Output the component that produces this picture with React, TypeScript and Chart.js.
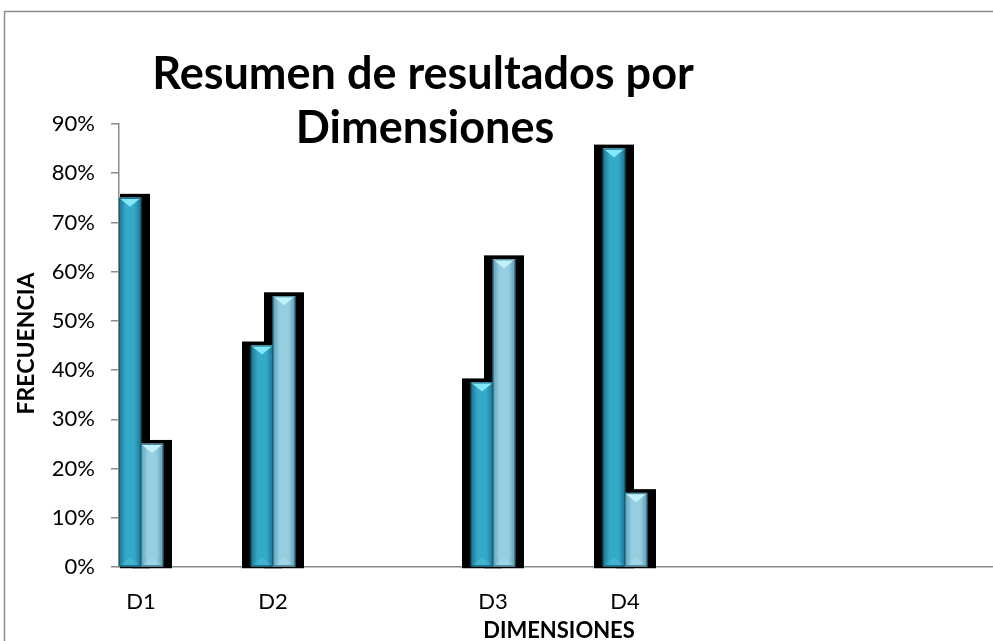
import React, { useEffect, useRef } from "react";
import { Chart, registerables } from "chart.js";

Chart.register(...registerables);

// Source rows: blank rows in the sheet keep their empty slot on the axis.
const categories = ["D1", "", "", "D2", "", "", "", "", "D3", "", "", "D4", "", "", "", "", "", "", "", ""];
const serieOscura: (number | null)[] = [0.75, null, null, 0.45, null, null, null, null, 0.375, null, null, 0.85, null, null, null, null, null, null, null, null];
const serieClara: (number | null)[] = [0.25, null, null, 0.55, null, null, null, null, 0.625, null, null, 0.15, null, null, null, null, null, null, null, null];
const yMax = 0.9;
const yStep = 0.1;

const titleLines = ["Resumen de resultados por", "Dimensiones"];
const yTitle = "FRECUENCIA";
const xTitle = "DIMENSIONES";

const FONT = "Lato, 'Open Sans', sans-serif";

const barLooks = [
  { edge: "#1c7591", mid: "#35a9c9", tip: "#82e8f9", line: "#155f74" },
  { edge: "#5e9fb8", mid: "#96cee1", tip: "#c3f2fa", line: "#3d7e96" },
];

const forEachBar = (chart: any, fn: (bar: any, di: number) => void) => {
  chart.data.datasets.forEach((ds: any, di: number) => {
    const meta = chart.getDatasetMeta(di);
    meta.data.forEach((el: any, i: number) => {
      if (ds.data[i] == null) return;
      fn(el.getProps(["x", "y", "base", "width"], true), di);
    });
  });
};

const decor = {
  id: "decor",
  beforeDraw(chart: any) {
    const { ctx } = chart;
    ctx.save();
    ctx.fillStyle = "#ffffff";
    ctx.fillRect(0, 0, chart.width, chart.height);
    ctx.strokeStyle = "#8c8c8c";
    ctx.lineWidth = 1.5;
    ctx.strokeRect(4.5, 11.5, chart.width + 40, chart.height + 40);
    ctx.restore();
  },
  beforeDatasetsDraw(chart: any) {
    // black halo behind every bar
    const { ctx, chartArea } = chart;
    ctx.save();
    ctx.beginPath();
    ctx.rect(chartArea.left + 1, 0, chart.width, chart.height);
    ctx.clip();
    ctx.fillStyle = "#000000";
    forEachBar(chart, (b) => {
      ctx.fillRect(b.x - b.width / 2 - 9, b.y - 4, b.width + 18, b.base - b.y + 6);
    });
    ctx.restore();
  },
  afterDatasetsDraw(chart: any) {
    const { ctx } = chart;
    ctx.save();
    forEachBar(chart, (b, di) => {
      const look = barLooks[di];
      const l = b.x - b.width / 2;
      const r = b.x + b.width / 2;
      const g = ctx.createLinearGradient(l, 0, r, 0);
      g.addColorStop(0, look.edge);
      g.addColorStop(0.3, look.mid);
      g.addColorStop(0.7, look.mid);
      g.addColorStop(1, look.edge);
      ctx.fillStyle = g;
      ctx.fillRect(l, b.y, b.width, b.base - b.y);
      // bevel facets
      const th = 9;
      ctx.fillStyle = look.tip;
      ctx.beginPath();
      ctx.moveTo(l, b.y);
      ctx.lineTo(r, b.y);
      ctx.lineTo(b.x, b.y + th);
      ctx.closePath();
      ctx.fill();
      ctx.globalAlpha = 0.18;
      ctx.beginPath();
      ctx.moveTo(l, b.base);
      ctx.lineTo(r, b.base);
      ctx.lineTo(b.x, b.base - th);
      ctx.closePath();
      ctx.fill();
      ctx.globalAlpha = 1;
      ctx.strokeStyle = look.line;
      ctx.lineWidth = 1;
      ctx.strokeRect(l + 0.5, b.y + 0.5, b.width - 1, b.base - b.y - 1);
    });
    ctx.restore();
  },
  afterDraw(chart: any) {
    const { ctx, chartArea } = chart;
    ctx.save();
    ctx.fillStyle = "#000000";
    ctx.textAlign = "center";
    ctx.textBaseline = "alphabetic";
    ctx.font = `bold 45px ${FONT}`;
    ctx.fillText(titleLines[0], 423, 89);
    ctx.fillText(titleLines[1], 425, 143);

    ctx.font = `bold 22px ${FONT}`;
    ctx.fillText(xTitle, (chartArea.left + chartArea.right) / 2, 638);

    ctx.font = `bold 23px ${FONT}`;
    ctx.translate(34, (chartArea.top + chartArea.bottom) / 2 - 2);
    ctx.rotate(-Math.PI / 2);
    ctx.fillText(yTitle, 0, 0);
    ctx.restore();
  },
};

export default function App() {
  const canvasRef = useRef<HTMLCanvasElement | null>(null);

  useEffect(() => {
    const canvas = canvasRef.current;
    if (!canvas) return;
    const axisGray = "#8a8a8a";
    const chart = new Chart(canvas, {
      type: "bar",
      data: {
        labels: categories,
        datasets: [
          { label: "Serie 1", data: serieOscura, backgroundColor: barLooks[0].mid, barPercentage: 1, categoryPercentage: 1 },
          { label: "Serie 2", data: serieClara, backgroundColor: barLooks[1].mid, barPercentage: 1, categoryPercentage: 1 },
        ],
      },
      options: {
        animation: false,
        responsive: true,
        maintainAspectRatio: false,
        layout: { padding: { top: 124, right: 1, left: 0, bottom: 0 } },
        plugins: {
          legend: { display: false },
          title: { display: false },
          tooltip: { enabled: false },
        },
        scales: {
          x: {
            ticks: {
              autoSkip: false,
              maxRotation: 0,
              minRotation: 0,
              padding: 22,
              color: "#000000",
              font: { family: FONT, size: 22 },
            },
            grid: { display: false, drawTicks: false },
            border: { color: axisGray, width: 1.5 },
            afterFit: (s: any) => {
              s.height = 74;
            },
          },
          y: {
            min: 0,
            max: yMax,
            ticks: {
              stepSize: yStep,
              padding: 16,
              color: "#000000",
              font: { family: FONT, size: 22 },
              callback: (v: any) => `${Math.round(Number(v) * 100)}%`,
            },
            grid: { drawOnChartArea: false, drawTicks: true, tickLength: 8, color: axisGray, lineWidth: 1.5 },
            border: { color: axisGray, width: 1.5 },
            afterFit: (s: any) => {
              s.width = 119;
            },
          },
        },
      },
      plugins: [decor],
    });
    return () => chart.destroy();
  }, []);

  return (
    <div
      style={{
        position: "absolute",
        left: 0,
        top: 0,
        width: 993,
        height: 641,
        overflow: "hidden",
        background: "#ffffff",
      }}
    >
      <div style={{ position: "relative", width: 1000, height: 641 }}>
        <canvas ref={canvasRef} />
      </div>
    </div>
  );
}
